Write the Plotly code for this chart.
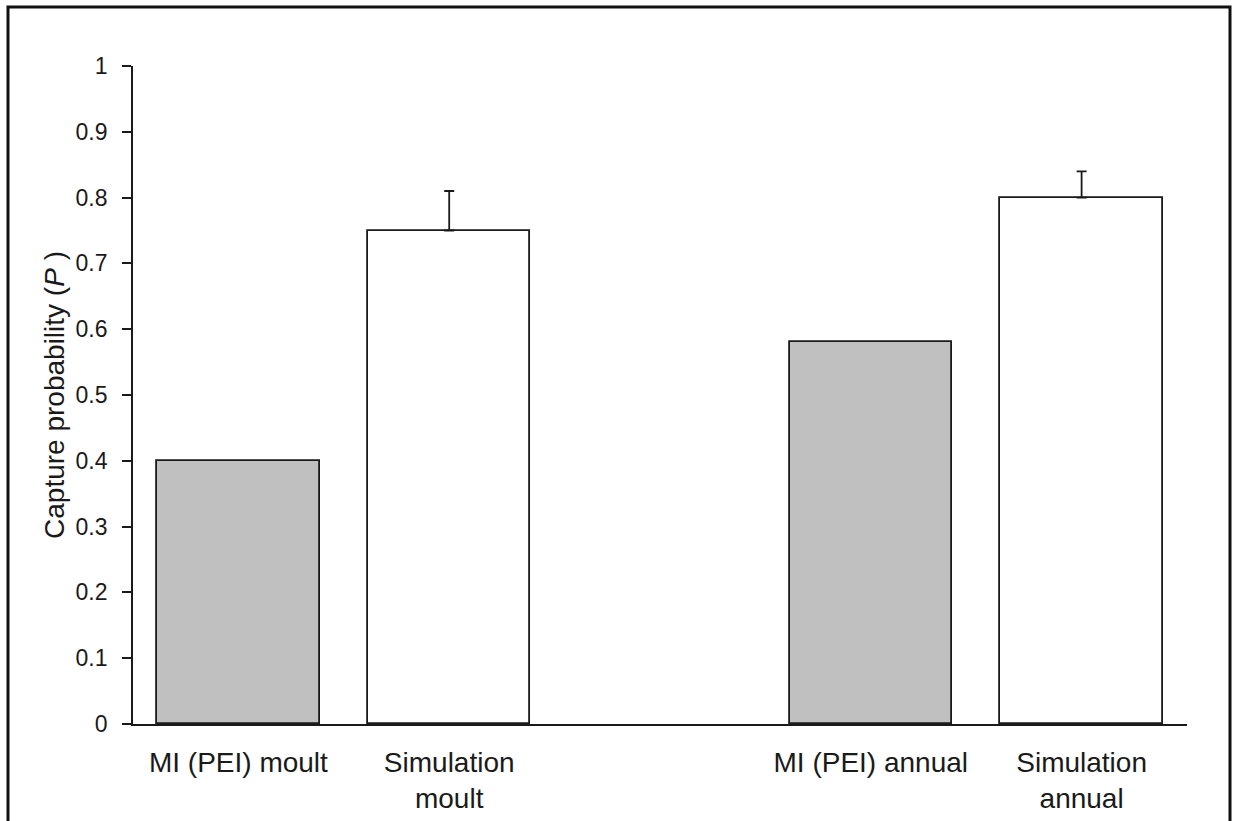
import plotly.graph_objects as go

# Data
categories = ["MI (PEI) moult", "Simulation<br>moult", "MI (PEI) annual", "Simulation<br>annual"]
positions = [0, 1, 3, 4]
mi_values = [0.40, 0.58]
mi_positions = [0, 3]
sim_values = [0.75, 0.80]
sim_errors = [0.06, 0.04]
sim_positions = [1, 4]
y_ticks = [0, 0.1, 0.2, 0.3, 0.4, 0.5, 0.6, 0.7, 0.8, 0.9, 1]
y_ticktext = ["0", "0.1", "0.2", "0.3", "0.4", "0.5", "0.6", "0.7", "0.8", "0.9", "1"]

FONT = "Liberation Sans, Arial, sans-serif"
W, H = 1233, 821
L, R, T, B = 133, 46, 66, 97

fig = go.Figure()
fig.add_trace(go.Bar(
    x=mi_positions, y=mi_values, width=0.77,
    marker=dict(color="#c0c0c0", line=dict(color="#1a1a1a", width=1.8)),
    showlegend=False, hoverinfo="y",
))
fig.add_trace(go.Bar(
    x=sim_positions, y=sim_values, width=0.77,
    marker=dict(color="#ffffff", line=dict(color="#1a1a1a", width=1.8)),
    error_y=dict(type="data", symmetric=False, array=sim_errors,
                 arrayminus=[0] * len(sim_errors),
                 color="#1a1a1a", thickness=1.8, width=5),
    showlegend=False, hoverinfo="y",
))

pw = W - L - R
ph = H - T - B
fig.add_shape(type="rect", xref="paper", yref="paper",
              x0=(8 - L) / pw, x1=(1230 - L) / pw,
              y0=-0.3, y1=(H - B - 7) / ph,
              line=dict(color="#111111", width=3), fillcolor="rgba(0,0,0,0)",
              layer="below")

fig.update_layout(
    width=W, height=H, autosize=False,
    margin=dict(l=L, r=R, t=T, b=B, autoexpand=False),
    paper_bgcolor="white", plot_bgcolor="white",
    font=dict(family=FONT, color="#1a1a1a"),
    bargap=0,
    xaxis=dict(
        range=[-0.5, 4.5], tickmode="array", tickvals=positions, ticktext=categories,
        showline=True, linecolor="#1a1a1a", linewidth=1.8,
        ticks="", showgrid=False, zeroline=False, automargin=False,
        tickfont=dict(size=28, family=FONT, color="#1a1a1a"),
        ticklabelstandoff=12,
    ),
    yaxis=dict(
        range=[0, 1], tickmode="array", tickvals=y_ticks, ticktext=y_ticktext,
        showline=True, linecolor="#1a1a1a", linewidth=1.8,
        ticks="outside", ticklen=9, tickwidth=1.8, tickcolor="#1a1a1a",
        showgrid=False, zeroline=False, automargin=False,
        tickfont=dict(size=23, family=FONT, color="#1a1a1a"),
        ticklabelstandoff=10,
        title=dict(text="Capture probability (<i>P</i> )",
                   font=dict(size=28, family=FONT, color="#1a1a1a"), standoff=3),
    ),
)

fig.write_html(
    "out.html",
    config={"displayModeBar": False},
    post_script="document.body.style.margin='0';document.body.style.overflow='hidden';",
)
